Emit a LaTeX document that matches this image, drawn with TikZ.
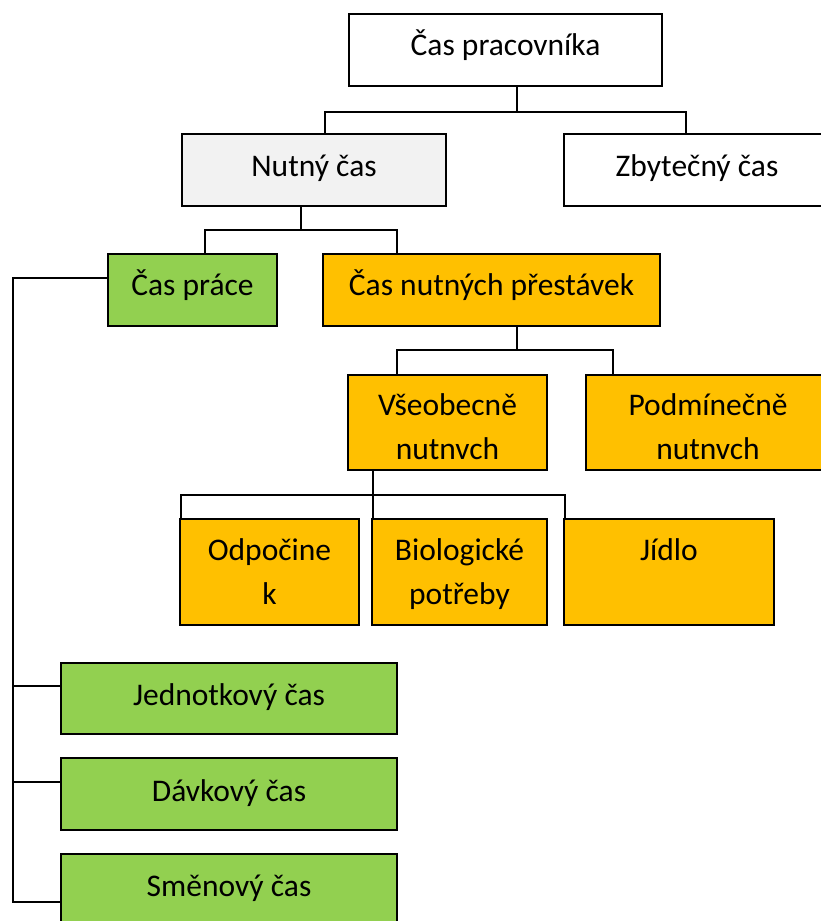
\documentclass[tikz,border=0pt]{standalone}
\usepackage{fontspec}
\setmainfont{Carlito}
\definecolor{boxgreen}{HTML}{92D050}
\definecolor{boxorange}{HTML}{FFC000}
\definecolor{boxgray}{HTML}{F2F2F2}
\begin{document}
\begin{tikzpicture}[x=1pt,y=-1pt,
  box/.style={draw=black, line width=1.8pt, inner sep=0pt, outer sep=0pt,
              anchor=north west, minimum width=#1},
  link/.style={draw=black, line width=1.6pt},
  lbl/.style={anchor=base, inner sep=0pt, align=center,
              font=\fontsize{31.5}{44}\selectfont}]
\useasboundingbox (0,0) rectangle (821,921);
\clip (0,0) rectangle (821,921);

% boxes
\node[box=313pt, minimum height=72pt, fill=white]      (root)  at (349,14)  {};
\node[box=264pt, minimum height=72pt, fill=boxgray]    (nutny) at (182,134) {};
\node[box=266pt, minimum height=72pt, fill=white]      (zbyt)  at (564,134) {};
\node[box=169pt, minimum height=72pt, fill=boxgreen]   (prace) at (108,254) {};
\node[box=337pt, minimum height=72pt, fill=boxorange]  (prest) at (323,254) {};
\node[box=199pt, minimum height=95pt, fill=boxorange]  (vseob) at (348,375) {};
\node[box=244pt, minimum height=95pt, fill=boxorange]  (podm)  at (586,375) {};
\node[box=179pt, minimum height=106pt, fill=boxorange] (odp)   at (180,519) {};
\node[box=175pt, minimum height=106pt, fill=boxorange] (bio)   at (372,519) {};
\node[box=210pt, minimum height=106pt, fill=boxorange] (jidlo) at (564,519) {};
\node[box=336pt, minimum height=71pt, fill=boxgreen]   (jedn)  at (61,663)  {};
\node[box=336pt, minimum height=72pt, fill=boxgreen]   (davk)  at (61,758)  {};
\node[box=336pt, minimum height=72pt, fill=boxgreen]   (smen)  at (61,854)  {};

% labels, first baseline about 41pt below the top edge
\node[lbl] at ([yshift=-41pt]root.north)  {Čas pracovníka};
\node[lbl] at ([yshift=-42pt]nutny.north) {Nutný čas};
\node[lbl] at ([yshift=-42pt]zbyt.north)  {Zbytečný čas};
\node[lbl] at ([yshift=-41pt]prace.north) {Čas práce};
\node[lbl] at ([yshift=-41pt]prest.north) {Čas nutných přestávek};
\node[lbl] at ([yshift=-40pt]vseob.north) {\begin{tabular}[t]{@{}c@{}}Všeobecně\\nutnvch\end{tabular}};
\node[lbl] at ([yshift=-40pt]podm.north)  {\begin{tabular}[t]{@{}c@{}}Podmínečně\\nutnvch\end{tabular}};
\node[lbl] at ([yshift=-41pt]odp.north)   {\begin{tabular}[t]{@{}c@{}}Odpočine\\k\end{tabular}};
\node[lbl] at ([yshift=-41pt]bio.north)   {\begin{tabular}[t]{@{}c@{}}Biologické\\potřeby\end{tabular}};
\node[lbl] at ([yshift=-41pt]jidlo.north) {Jídlo};
\node[lbl] at ([yshift=-42pt]jedn.north)  {Jednotkový čas};
\node[lbl] at ([yshift=-43pt]davk.north)  {Dávkový čas};
\node[lbl] at ([yshift=-42pt]smen.north)  {Směnový čas};

% bus lines
\coordinate (rootBus)  at (517,112);
\coordinate (tapNutny) at (325,112);
\coordinate (tapZbyt)  at (686,112);
\draw[link] (rootBus |- root.south) -- (rootBus);
\draw[link] (tapNutny |- nutny.north) -- (tapNutny) -- (tapZbyt) -- (tapZbyt |- zbyt.north);

\coordinate (nutnyBus) at (301,230);
\coordinate (tapPrace) at (205,230);
\coordinate (tapPrest) at (397,230);
\draw[link] (nutnyBus |- nutny.south) -- (nutnyBus);
\draw[link] (tapPrace |- prace.north) -- (tapPrace) -- (tapPrest) -- (tapPrest |- prest.north);

\coordinate (prestBus) at (517,350);
\coordinate (tapVseob) at (397,350);
\coordinate (tapPodm)  at (613,350);
\draw[link] (prestBus |- prest.south) -- (prestBus);
\draw[link] (tapVseob |- vseob.north) -- (tapVseob) -- (tapPodm) -- (tapPodm |- podm.north);

\coordinate (vseobBus) at (373,495);
\coordinate (tapOdp)   at (181,495);
\coordinate (tapJidlo) at (565,495);
\draw[link] (vseobBus |- vseob.south) -- (vseobBus |- bio.north);
\draw[link] (tapOdp |- odp.north) -- (tapOdp) -- (tapJidlo) -- (tapJidlo |- jidlo.north);

% left spine from Čas práce to the green boxes
\coordinate (spineTop) at (13,278);
\coordinate (tapJedn)  at (13,686);
\coordinate (tapDavk)  at (13,782);
\coordinate (tapSmen)  at (13,902);
\draw[link] (spineTop -| prace.west) -- (spineTop) -- (tapSmen) -- (tapSmen -| smen.west);
\draw[link] (tapJedn) -- (tapJedn -| jedn.west);
\draw[link] (tapDavk) -- (tapDavk -| davk.west);
\end{tikzpicture}
\end{document}
